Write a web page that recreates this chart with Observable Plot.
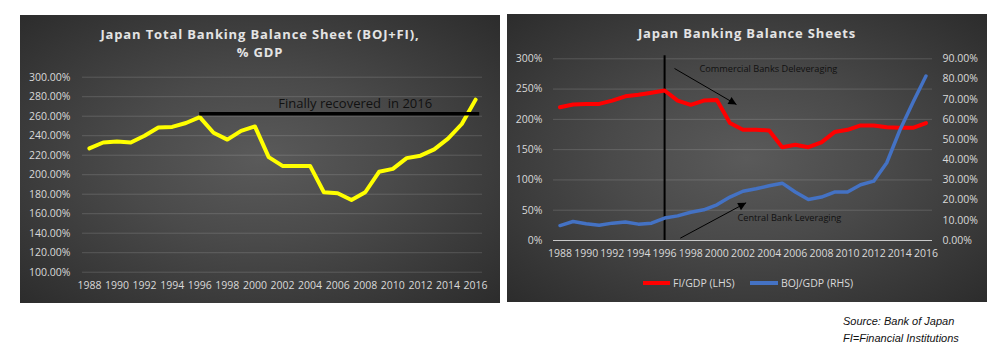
<!DOCTYPE html>
<html><head><meta charset="utf-8">
<script src="https://cdn.jsdelivr.net/npm/d3@7"></script>
<script src="https://cdn.jsdelivr.net/npm/@observablehq/plot@0.6"></script>
<style>
body{margin:0;background:#fff;width:1004px;height:354px;overflow:hidden;position:relative;font-family:"Open Sans",sans-serif;}
.panel{position:absolute;width:480px;height:288px;background:radial-gradient(ellipse at 50% 50%, #5a5a5a 0%, #4a4a4a 40%, #2c2c2c 100%);}
.panel svg{position:absolute;left:0;top:0;}
.title{position:absolute;left:0;width:100%;text-align:center;color:#e4e4e4;font-weight:bold;font-size:13px;letter-spacing:0.85px;line-height:18px;}
.leg{position:absolute;color:#d9d9d9;font-size:10.5px;line-height:14px;}
.sw{position:absolute;height:4px;}
.src{position:absolute;left:843px;top:313px;font-family:"Liberation Sans",Arial,sans-serif;font-style:italic;font-size:11px;line-height:17.3px;color:#111;}
</style></head>
<body>
<div class="panel" id="p1" style="left:20px;top:15px;">
  <div class="title" style="top:10px;">Japan Total Banking Balance Sheet (BOJ+FI),<br>% GDP</div>
</div>
<div class="panel" id="p2" style="left:507px;top:14px;">
  <div class="title" style="top:10px;">Japan Banking Balance Sheets</div>
  <div class="sw" style="left:136px;top:267px;width:27px;background:#ff0000;"></div>
  <div class="leg" style="left:166px;top:262px;">FI/GDP (LHS)</div>
  <div class="sw" style="left:243px;top:267px;width:28px;background:#4472c4;"></div>
  <div class="leg" style="left:274px;top:262px;">BOJ/GDP (RHS)</div>
</div>
<div class="src">Source: Bank of Japan<br>FI=Financial Institutions</div>
<script>
const years = [1988,1989,1990,1991,1992,1993,1994,1995,1996,1997,1998,1999,2000,2001,2002,2003,2004,2005,2006,2007,2008,2009,2010,2011,2012,2013,2014,2015,2016];
const tickYears = [1988,1990,1992,1994,1996,1998,2000,2002,2004,2006,2008,2010,2012,2014,2016];
const totalPct = [227,233,234,233,240,248.5,249,253,259,243,236,245,249.5,218,209,209,209,182,181,174,182,203,206,217,219.5,226,237,252,277];
const fiPct = [220,224.5,225.5,225.5,231,238,240.5,244,247.7,231,224,231,232,194,183,183,181.6,154,158,154,162,179,182.7,190,190,187,186,186,194];
const bojPct = [7.4,9.4,8.3,7.6,8.6,9.2,8.1,8.6,11.1,12.2,14,15.2,17.7,21.5,24.4,25.6,27.1,28.4,24,20.3,21.5,24,24,27.6,29.4,38.5,54.6,68.4,81.5];
const leftTicks = [100,120,140,160,180,200,220,240,260,280,300];
const lhsTicks = [0,50,100,150,200,250,300];
const rhsTicks = [0,10,20,30,40,50,60,70,80,90];
const recoverLine = [{y:262.5, x1:1996, x2:2016.3}];
const recoverLabel = [{x:2001.7, y:273, text:"Finally recovered  in 2016"}];
const splitYear = [{x:1996, y1:0, y2:305}];
const arrows = [{x1:1996.76,y1:284,x2:2001.5,y2:224.5},{x1:1997.2,y1:3.8,x2:2002.24,y2:62.2}];
const notes = [{x:1998.67,y:282.3,text:"Commercial Banks Deleveraging"},{x:2001.58,y:36.8,text:"Central Bank Leveraging"}];

const k = 300/90;
const total = years.map((y,i)=>({year:y, v:totalPct[i]}));
const fi = years.map((y,i)=>({year:y, v:fiPct[i]}));
const boj = years.map((y,i)=>({year:y, v:bojPct[i]*k}));
const baseStyle = {background:"transparent", color:"#d9d9d9", fontFamily:"Open Sans", fontSize:"10.5px", overflow:"visible"};

const c1 = Plot.plot({
  width:480, height:288, marginLeft:62, marginRight:18, marginTop:61.7, marginBottom:31.3,
  style:baseStyle,
  x:{domain:[1987.5,2016.5]}, y:{domain:[100,300]},
  marks:[
    Plot.ruleY(leftTicks,{stroke:"#ffffff", strokeOpacity:0.15}),
    Plot.axisY({ticks:leftTicks, tickSize:0, tickPadding:12, tickFormat:d=>d.toFixed(2)+"%", label:null, fill:"#d9d9d9"}),
    Plot.axisX({ticks:tickYears, tickSize:0, tickPadding:9, tickFormat:d=>String(d), label:null, fill:"#d9d9d9"}),
    Plot.line(total,{x:"year", y:"v", stroke:"#ffff00", strokeWidth:4, strokeLinejoin:"round", strokeLinecap:"round"}),
    Plot.ruleY(recoverLine,{y:"y", x1:"x1", x2:"x2", stroke:"#000", strokeWidth:3.5}),
    Plot.text(recoverLabel,{x:"x", y:"y", text:"text", textAnchor:"start", fill:"#111", fontSize:13})
  ]
});
document.getElementById("p1").appendChild(c1);

const c2 = Plot.plot({
  width:480, height:288, marginLeft:46, marginRight:55, marginTop:44.3, marginBottom:62,
  style:baseStyle,
  x:{domain:[1987.5,2016.5]}, y:{domain:[0,300]},
  marks:[
    Plot.ruleY(lhsTicks.filter(d=>d>0),{stroke:"#ffffff", strokeOpacity:0.15}),
    Plot.ruleY([0],{stroke:"#c8c8c8", strokeWidth:1}),
    Plot.axisY({ticks:lhsTicks, tickSize:0, tickPadding:11, tickFormat:d=>d+"%", label:null, fill:"#d9d9d9"}),
    Plot.axisY({anchor:"right", ticks:rhsTicks.map(d=>d*k), tickSize:0, tickPadding:10, tickFormat:d=>(d/k).toFixed(2)+"%", label:null, fill:"#d9d9d9"}),
    Plot.axisX({ticks:tickYears, tickSize:0, tickPadding:9, tickFormat:d=>String(d), label:null, fill:"#d9d9d9"}),
    Plot.ruleX(splitYear,{x:"x", y1:"y1", y2:"y2", stroke:"#000", strokeWidth:2}),
    Plot.line(fi,{x:"year", y:"v", stroke:"#ff0000", strokeWidth:4, strokeLinejoin:"round", strokeLinecap:"round"}),
    Plot.line(boj,{x:"year", y:"v", stroke:"#4472c4", strokeWidth:3.5, strokeLinejoin:"round", strokeLinecap:"round"}),
    Plot.link(arrows,{x1:"x1", y1:"y1", x2:"x2", y2:"y2", stroke:"#000", strokeWidth:1, markerEnd:"arrow"}),
    Plot.text(notes,{x:"x", y:"y", text:"text", textAnchor:"start", fill:"#111", fontSize:9.2})
  ]
});
c2.querySelectorAll("marker").forEach(m=>{
  m.setAttribute("viewBox","-8 -5 10 10");
  m.setAttribute("markerWidth","10");
  m.setAttribute("markerHeight","10");
  m.setAttribute("markerUnits","userSpaceOnUse");
  m.setAttribute("overflow","visible");
  const p = m.querySelector("path");
  if (p){ p.setAttribute("d","M-8,-4L0,0L-8,4Z"); p.setAttribute("fill","#000"); p.setAttribute("stroke","none"); }
});
document.getElementById("p2").appendChild(c2);
</script>
</body></html>
